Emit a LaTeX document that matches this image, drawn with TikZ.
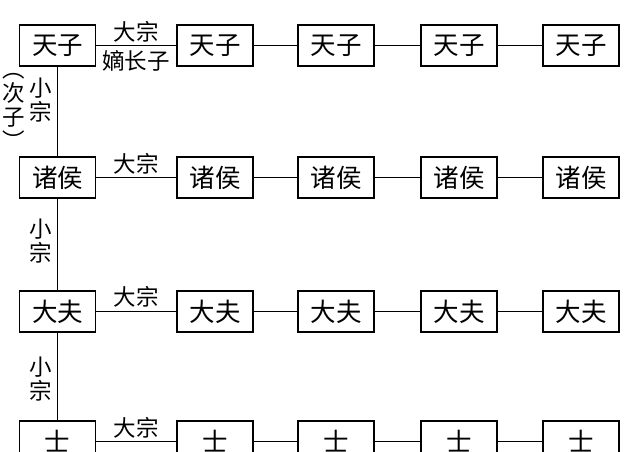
\documentclass[tikz,border=0pt]{standalone}
\usepackage{fontspec}
\newfontfamily\cjk{Noto Sans CJK SC}
\begin{document}
\begin{tikzpicture}[x=1pt,y=-1pt,
  box/.style={draw, line width=1.4pt, minimum width=76pt, minimum height=41pt, inner sep=0pt, font=\cjk\fontsize{25.5}{25.5}\selectfont},
  conn/.style={line width=0.9pt},
  lab/.style={font=\cjk\fontsize{22.5}{24}\selectfont, inner sep=0pt},
  vlab/.style={font=\cjk\fontsize{22.5}{24}\selectfont, inner sep=0pt, align=center}]
\useasboundingbox (0,0) rectangle (633,451);
\clip (0,0) rectangle (633,451);
\foreach \r/\t/\y in {1/天子/45.5, 2/诸侯/177.5, 3/大夫/311.5, 4/士/441.5} {
  \foreach \c/\x in {1/57.5,2/215,3/336,4/459,5/581} {
    \node[box] (r\r c\c) at (\x,\y) {\t};
  }
}
% horizontal connectors
\draw[conn] (r1c1) -- node[lab, midway, yshift=14pt] (l1a) {大宗} node[lab, midway, yshift=-15pt] (l1b) {嫡长子} (r1c2);
\draw[conn] (r2c1) -- node[lab, midway, yshift=14pt] (l2a) {大宗} (r2c2);
\draw[conn] (r3c1) -- node[lab, midway, yshift=15pt] (l3a) {大宗} (r3c2);
\draw[conn] (r4c1) -- node[lab, midway, yshift=14pt] (l4a) {大宗} (r4c2);
\foreach \r in {1,2,3,4} {
  \foreach \c/\n in {2/3,3/4,4/5} {
    \draw[conn] (r\r c\c) -- (r\r c\n);
  }
}
% vertical connectors
\draw[conn] (r1c1) -- node[vlab, midway, xshift=-17pt, yshift=11pt] (v1) {小\\宗} node[vlab, midway, xshift=-44pt, yshift=0pt] (v1b) {︵\\次\\子\\︶} (r2c1);
\draw[conn] (r2c1) -- node[vlab, midway, xshift=-17pt, yshift=3pt] (v2) {小\\宗} (r3c1);
\draw[conn] (r3c1) -- node[vlab, midway, xshift=-17pt, yshift=-3pt] (v3) {小\\宗} (r4c1);
\end{tikzpicture}
\end{document}
